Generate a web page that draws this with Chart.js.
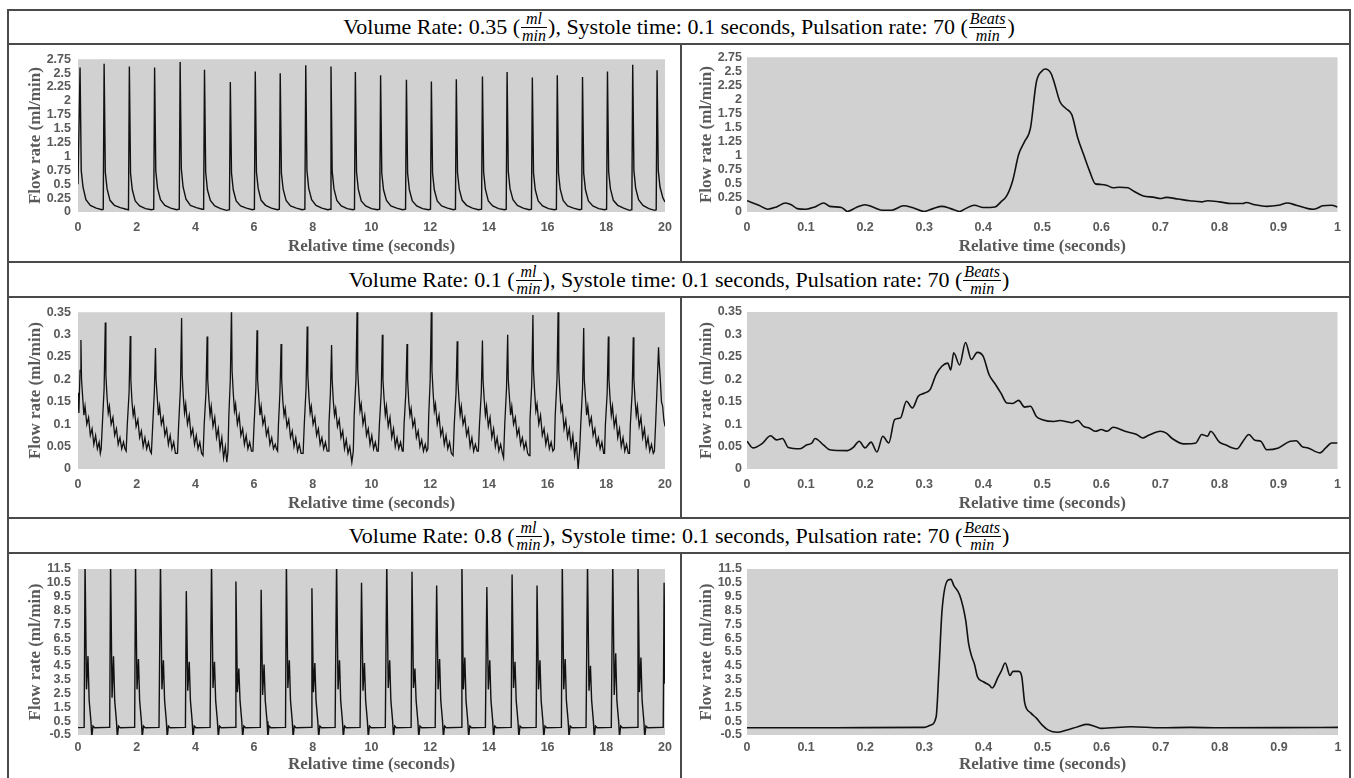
<!DOCTYPE html>
<html>
<head>
<meta charset="utf-8">
<script src="https://cdn.jsdelivr.net/npm/chart.js@4.4.1/dist/chart.umd.min.js"></script>
<style>
  body { margin: 0; background: #fff; width: 1354px; height: 778px; position: relative; overflow: hidden; }
  .hl { position: absolute; left: 7px; width: 1344px; height: 2px; background: #4a4a4a; }
  .vl { position: absolute; width: 2px; background: #4a4a4a; }
  .hdr { position: absolute; left: 9px; width: 1340px; height: 34px; line-height: 34px; text-align: center;
         font-family: "Liberation Serif", "Times New Roman", serif; font-size: 22px; color: #000; white-space: nowrap; }
  .frac { display: inline-block; vertical-align: middle; text-align: center; font-style: italic;
          font-size: 16px; line-height: 16px; margin: 0 1px; position: relative; top: -1px; }
  .frac span { display: block; padding: 0 1px; }
  .frac .num { border-bottom: 1px solid #000; }
  canvas { position: absolute; }
</style>
</head>
<body>
<div class="hl" style="top:9px"></div>
<div class="hl" style="top:43px"></div>
<div class="hl" style="top:261px"></div>
<div class="hl" style="top:296px"></div>
<div class="hl" style="top:517px"></div>
<div class="hl" style="top:552px"></div>
<div class="vl" style="left:7px; top:9px; height:769px"></div>
<div class="vl" style="left:1349px; top:9px; height:769px"></div>
<div class="vl" style="left:680px; top:43px; height:219px"></div>
<div class="vl" style="left:680px; top:296px; height:222px"></div>
<div class="vl" style="left:680px; top:552px; height:226px"></div>

<div class="hdr" style="top:10px">Volume Rate: 0.35 (<span class="frac"><span class="num">ml</span><span>min</span></span>), Systole time: 0.1 seconds, Pulsation rate: 70 (<span class="frac"><span class="num">Beats</span><span>min</span></span>)</div>
<div class="hdr" style="top:263px">Volume Rate: 0.1 (<span class="frac"><span class="num">ml</span><span>min</span></span>), Systole time: 0.1 seconds, Pulsation rate: 70 (<span class="frac"><span class="num">Beats</span><span>min</span></span>)</div>
<div class="hdr" style="top:519px">Volume Rate: 0.8 (<span class="frac"><span class="num">ml</span><span>min</span></span>), Systole time: 0.1 seconds, Pulsation rate: 70 (<span class="frac"><span class="num">Beats</span><span>min</span></span>)</div>

<canvas id="tl" width="671" height="215" style="left:9px; top:46px"></canvas>
<canvas id="tr" width="666" height="215" style="left:683px; top:46px"></canvas>
<canvas id="ml" width="671" height="218" style="left:9px; top:299px"></canvas>
<canvas id="mr" width="666" height="218" style="left:683px; top:299px"></canvas>
<canvas id="bl" width="671" height="222" style="left:9px; top:555px"></canvas>
<canvas id="br" width="666" height="222" style="left:683px; top:555px"></canvas>

<script>
// 0.35 ml/min, 20 s record: [time, flow]
const tlPoints = [
  [0,0.5],[0.07,2.6],[0.11,0.75],[0.17,0.45],[0.27,0.22],[0.42,0.12],[0.62,0.07],[0.82,0.04],
  [0.86,0.05],[0.89,2.67],[0.93,0.72],[0.99,0.42],[1.09,0.21],[1.24,0.12],[1.44,0.08],[1.64,0.05],
  [1.72,0.04],[1.75,2.62],[1.79,0.7],[1.85,0.4],[1.95,0.2],[2.1,0.11],[2.3,0.06],[2.5,0.04],
  [2.58,0.05],[2.61,2.6],[2.65,0.74],[2.71,0.43],[2.81,0.22],[2.96,0.12],[3.16,0.07],[3.36,0.04],
  [3.45,0.05],[3.48,2.7],[3.52,0.78],[3.58,0.45],[3.68,0.23],[3.83,0.12],[4.03,0.08],[4.23,0.05],
  [4.28,0.05],[4.31,2.56],[4.35,0.72],[4.41,0.4],[4.51,0.21],[4.66,0.11],[4.86,0.06],[5.06,0.03],
  [5.16,0.04],[5.19,2.34],[5.23,0.7],[5.29,0.4],[5.39,0.2],[5.54,0.11],[5.74,0.07],[5.94,0.04],
  [6.01,0.05],[6.04,2.53],[6.08,0.72],[6.14,0.42],[6.24,0.21],[6.39,0.12],[6.59,0.07],[6.79,0.04],
  [6.86,0.05],[6.89,2.5],[6.93,0.7],[6.99,0.41],[7.09,0.21],[7.24,0.11],[7.44,0.07],[7.64,0.04],
  [7.73,0.05],[7.76,2.64],[7.8,0.75],[7.86,0.43],[7.96,0.22],[8.11,0.12],[8.31,0.07],[8.51,0.04],
  [8.59,0.05],[8.62,2.62],[8.66,0.74],[8.72,0.42],[8.82,0.21],[8.97,0.11],[9.17,0.06],[9.37,0.04],
  [9.42,0.05],[9.45,2.52],[9.49,0.72],[9.55,0.41],[9.65,0.2],[9.8,0.11],[10.0,0.06],[10.2,0.04],
  [10.28,0.05],[10.31,2.46],[10.35,0.7],[10.41,0.4],[10.51,0.21],[10.66,0.11],[10.86,0.07],[11.06,0.04],
  [11.16,0.05],[11.19,2.38],[11.23,0.7],[11.29,0.4],[11.39,0.2],[11.54,0.11],[11.74,0.06],[11.94,0.04],
  [12.01,0.05],[12.04,2.35],[12.08,0.7],[12.14,0.4],[12.24,0.2],[12.39,0.11],[12.59,0.07],[12.79,0.04],
  [12.86,0.05],[12.89,2.39],[12.93,0.71],[12.99,0.41],[13.09,0.21],[13.24,0.12],[13.44,0.07],[13.64,0.04],
  [13.75,0.05],[13.78,2.44],[13.82,0.72],[13.88,0.41],[13.98,0.2],[14.13,0.11],[14.33,0.06],[14.53,0.04],
  [14.59,0.05],[14.62,2.52],[14.66,0.73],[14.72,0.42],[14.82,0.22],[14.97,0.12],[15.17,0.07],[15.37,0.04],
  [15.45,0.05],[15.48,2.42],[15.52,0.7],[15.58,0.4],[15.68,0.2],[15.83,0.11],[16.03,0.06],[16.23,0.04],
  [16.3,0.05],[16.33,2.46],[16.37,0.71],[16.43,0.41],[16.53,0.21],[16.68,0.11],[16.88,0.07],[17.08,0.04],
  [17.16,0.05],[17.19,2.43],[17.23,0.7],[17.29,0.4],[17.39,0.2],[17.54,0.11],[17.74,0.06],[17.94,0.04],
  [18.01,0.05],[18.04,2.53],[18.08,0.72],[18.14,0.42],[18.24,0.21],[18.39,0.12],[18.59,0.07],[18.79,0.03],
  [18.87,0.04],[18.9,2.65],[18.94,0.75],[19.0,0.43],[19.1,0.22],[19.25,0.12],[19.45,0.06],[19.65,0.03],
  [19.7,0.04],[19.73,2.55],[19.77,0.75],[19.83,0.45],[19.93,0.25],[20,0.18]
];

// 0.35 ml/min, one cycle
const trTime = [0,0.02,0.035,0.05,0.065,0.075,0.085,0.1,0.115,0.13,0.14,0.16,0.17,0.185,0.2,0.215,0.23,0.245,0.265,0.28,
  0.3,0.315,0.33,0.345,0.36,0.37,0.385,0.4,0.42,0.43,0.44,0.45,0.46,0.47,0.48,0.49,0.5,0.505,0.515,0.52,
  0.53,0.54,0.55,0.56,0.57,0.58,0.59,0.6,0.61,0.62,0.63,0.645,0.655,0.67,0.69,0.7,0.71,0.73,0.75,0.77,
  0.78,0.8,0.82,0.84,0.845,0.86,0.88,0.9,0.915,0.93,0.95,0.96,0.975,0.99,1.0];
const trFlow = [0.2,0.12,0.05,0.09,0.16,0.13,0.06,0.05,0.09,0.16,0.1,0.08,0.01,0.08,0.13,0.08,0.03,0.03,0.11,0.08,
  0.01,0.06,0.1,0.06,0.01,0.06,0.12,0.08,0.09,0.18,0.29,0.56,1.02,1.25,1.49,2.31,2.51,2.54,2.46,2.31,
  1.96,1.84,1.73,1.32,1.02,0.73,0.5,0.49,0.47,0.43,0.44,0.43,0.37,0.29,0.26,0.24,0.26,0.23,0.2,0.18,
  0.2,0.18,0.15,0.15,0.17,0.13,0.1,0.12,0.16,0.12,0.06,0.05,0.11,0.12,0.09];

// 0.1 ml/min, 20 s record: [time, flow]
const mlPoints = [
  [0,0.17],[0.03,0.125],[0.07,0.22],[0.1,0.288],[0.12,0.2],[0.16,0.16],[0.2,0.12],[0.24,0.14],[0.3,0.1],[0.36,0.115],[0.42,0.075],[0.48,0.09],[0.54,0.055],[0.6,0.075],[0.66,0.045],[0.72,0.06],[0.76,0.035],
  [0.79,0.045],[0.83,0.1],[0.89,0.18],[0.93,0.327],[0.95,0.21],[0.99,0.16],[1.03,0.125],[1.07,0.14],[1.13,0.1],[1.19,0.115],[1.25,0.075],[1.31,0.09],[1.37,0.055],[1.43,0.07],[1.49,0.045],[1.55,0.06],[1.6,0.045],
  [1.64,0.04],[1.68,0.1],[1.74,0.17],[1.78,0.297],[1.8,0.2],[1.84,0.15],[1.88,0.12],[1.92,0.135],[1.98,0.095],[2.04,0.11],[2.1,0.07],[2.16,0.085],[2.22,0.05],[2.28,0.07],[2.34,0.045],[2.4,0.06],[2.46,0.04],
  [2.5,0.035],[2.54,0.09],[2.6,0.17],[2.64,0.27],[2.66,0.2],[2.7,0.16],[2.74,0.12],[2.78,0.14],[2.84,0.1],[2.9,0.115],[2.96,0.075],[3.02,0.09],[3.08,0.055],[3.14,0.075],[3.2,0.045],[3.26,0.06],[3.32,0.035],
  [3.39,0.035],[3.43,0.1],[3.49,0.18],[3.53,0.337],[3.55,0.21],[3.59,0.16],[3.63,0.125],[3.67,0.145],[3.73,0.1],[3.79,0.12],[3.85,0.075],[3.91,0.09],[3.97,0.055],[4.03,0.075],[4.09,0.045],[4.15,0.06],[4.21,0.035],
  [4.26,0.03],[4.3,0.1],[4.36,0.17],[4.4,0.296],[4.42,0.2],[4.46,0.155],[4.5,0.12],[4.54,0.14],[4.6,0.095],[4.66,0.115],[4.72,0.07],[4.78,0.09],[4.84,0.045],[4.9,0.07],[4.96,0.025],[5.02,0.05],[5.07,0.015],
  [5.11,0.04],[5.14,0.12],[5.19,0.2],[5.23,0.36],[5.25,0.22],[5.29,0.17],[5.33,0.13],[5.37,0.145],[5.43,0.1],[5.49,0.12],[5.55,0.075],[5.61,0.09],[5.67,0.055],[5.73,0.075],[5.79,0.045],[5.85,0.06],[5.91,0.04],
  [5.96,0.04],[6.0,0.1],[6.06,0.18],[6.1,0.31],[6.12,0.2],[6.16,0.16],[6.2,0.12],[6.24,0.14],[6.3,0.1],[6.36,0.115],[6.42,0.075],[6.48,0.09],[6.54,0.055],[6.6,0.07],[6.66,0.045],[6.72,0.055],[6.76,0.045],
  [6.8,0.04],[6.83,0.1],[6.88,0.17],[6.92,0.279],[6.94,0.2],[6.98,0.15],[7.02,0.12],[7.06,0.135],[7.12,0.095],[7.18,0.11],[7.24,0.07],[7.3,0.085],[7.36,0.05],[7.42,0.07],[7.48,0.04],[7.54,0.055],[7.6,0.035],
  [7.67,0.035],[7.71,0.1],[7.77,0.18],[7.81,0.318],[7.83,0.21],[7.87,0.16],[7.91,0.125],[7.95,0.14],[8.01,0.1],[8.07,0.115],[8.13,0.075],[8.19,0.09],[8.25,0.055],[8.31,0.07],[8.37,0.045],[8.43,0.06],[8.49,0.04],
  [8.52,0.04],[8.55,0.1],[8.6,0.17],[8.64,0.277],[8.66,0.2],[8.7,0.15],[8.74,0.12],[8.78,0.135],[8.84,0.095],[8.9,0.11],[8.96,0.07],[9.02,0.085],[9.08,0.045],[9.14,0.065],[9.2,0.035],[9.26,0.05],[9.33,0.015],
  [9.38,0.04],[9.41,0.12],[9.47,0.2],[9.51,0.36],[9.53,0.22],[9.57,0.17],[9.61,0.13],[9.65,0.145],[9.71,0.1],[9.77,0.12],[9.83,0.075],[9.89,0.09],[9.95,0.055],[10.01,0.075],[10.07,0.045],[10.13,0.06],[10.19,0.04],
  [10.23,0.04],[10.27,0.1],[10.33,0.17],[10.37,0.3],[10.39,0.2],[10.43,0.155],[10.47,0.12],[10.51,0.14],[10.57,0.095],[10.63,0.115],[10.69,0.07],[10.75,0.09],[10.81,0.05],[10.87,0.07],[10.93,0.045],[10.99,0.06],[11.05,0.04],
  [11.08,0.04],[11.11,0.1],[11.17,0.17],[11.21,0.279],[11.23,0.2],[11.27,0.15],[11.31,0.12],[11.35,0.135],[11.41,0.095],[11.47,0.11],[11.53,0.07],[11.59,0.085],[11.65,0.05],[11.71,0.065],[11.77,0.04],[11.83,0.055],[11.88,0.04],
  [11.92,0.045],[11.95,0.12],[12.0,0.2],[12.04,0.36],[12.06,0.22],[12.1,0.17],[12.14,0.13],[12.18,0.145],[12.24,0.1],[12.3,0.12],[12.36,0.075],[12.42,0.09],[12.48,0.055],[12.54,0.075],[12.6,0.045],[12.66,0.06],[12.72,0.035],
  [12.78,0.03],[12.82,0.1],[12.88,0.17],[12.92,0.285],[12.94,0.2],[12.98,0.155],[13.02,0.12],[13.06,0.14],[13.12,0.1],[13.18,0.115],[13.24,0.075],[13.3,0.09],[13.36,0.05],[13.42,0.07],[13.48,0.04],[13.54,0.055],[13.6,0.04],
  [13.64,0.04],[13.68,0.1],[13.74,0.17],[13.78,0.287],[13.8,0.2],[13.84,0.155],[13.88,0.12],[13.92,0.14],[13.98,0.095],[14.04,0.115],[14.1,0.07],[14.16,0.09],[14.22,0.05],[14.28,0.07],[14.34,0.04],[14.4,0.055],[14.46,0.035],
  [14.5,0.025],[14.54,0.1],[14.6,0.18],[14.64,0.3],[14.66,0.2],[14.7,0.16],[14.74,0.12],[14.78,0.14],[14.84,0.1],[14.9,0.115],[14.96,0.075],[15.02,0.09],[15.08,0.055],[15.14,0.07],[15.2,0.045],[15.26,0.06],[15.32,0.035],
  [15.37,0.03],[15.4,0.11],[15.46,0.19],[15.5,0.344],[15.52,0.22],[15.56,0.17],[15.6,0.13],[15.64,0.145],[15.7,0.1],[15.76,0.12],[15.82,0.075],[15.88,0.09],[15.94,0.055],[16.0,0.075],[16.06,0.045],[16.12,0.06],[16.18,0.04],
  [16.23,0.045],[16.26,0.12],[16.32,0.2],[16.36,0.36],[16.38,0.22],[16.42,0.17],[16.46,0.13],[16.5,0.14],[16.56,0.09],[16.62,0.11],[16.68,0.07],[16.74,0.09],[16.8,0.05],[16.86,0.075],[16.92,0.03],[16.98,0.06],[17.04,0.0],
  [17.09,0.04],[17.13,0.1],[17.19,0.18],[17.23,0.315],[17.25,0.2],[17.29,0.16],[17.33,0.12],[17.37,0.14],[17.43,0.1],[17.49,0.115],[17.55,0.075],[17.61,0.09],[17.67,0.055],[17.73,0.07],[17.79,0.045],[17.85,0.06],[17.91,0.035],
  [17.94,0.035],[17.97,0.1],[18.03,0.17],[18.07,0.296],[18.09,0.2],[18.13,0.155],[18.17,0.12],[18.21,0.14],[18.27,0.095],[18.33,0.115],[18.39,0.07],[18.45,0.09],[18.51,0.05],[18.57,0.07],[18.63,0.04],[18.69,0.055],[18.75,0.035],
  [18.79,0.035],[18.82,0.1],[18.88,0.17],[18.92,0.294],[18.94,0.2],[18.98,0.155],[19.02,0.12],[19.06,0.14],[19.12,0.095],[19.18,0.115],[19.24,0.07],[19.3,0.09],[19.36,0.05],[19.42,0.07],[19.48,0.04],[19.54,0.055],[19.6,0.035],
  [19.64,0.04],[19.68,0.1],[19.74,0.2],[19.78,0.272],[19.8,0.24],[19.84,0.2],[19.88,0.15],[19.92,0.14],[19.96,0.11],[20,0.095]
];

// 0.1 ml/min, one cycle
const mrTime = [0,0.01,0.025,0.04,0.05,0.06,0.07,0.09,0.1,0.11,0.115,0.13,0.14,0.17,0.18,0.19,0.2,0.21,0.22,0.23,
  0.24,0.25,0.26,0.27,0.28,0.29,0.3,0.31,0.32,0.33,0.34,0.345,0.35,0.36,0.37,0.38,0.39,0.4,0.41,0.42,
  0.43,0.44,0.45,0.46,0.47,0.48,0.49,0.5,0.52,0.53,0.54,0.55,0.56,0.57,0.58,0.59,0.6,0.61,0.62,0.64,
  0.66,0.67,0.68,0.7,0.71,0.72,0.74,0.76,0.77,0.78,0.785,0.8,0.81,0.83,0.84,0.85,0.86,0.87,0.88,0.9,
  0.92,0.93,0.94,0.95,0.97,0.98,0.99,1.0];
const mrFlow = [0.062,0.047,0.056,0.074,0.065,0.068,0.048,0.045,0.053,0.058,0.068,0.053,0.043,0.041,0.048,0.062,0.047,0.06,0.038,0.073,
  0.058,0.11,0.114,0.151,0.136,0.162,0.169,0.177,0.21,0.229,0.236,0.221,0.259,0.232,0.282,0.244,0.26,0.251,0.21,0.19,
  0.169,0.147,0.146,0.153,0.138,0.14,0.117,0.11,0.106,0.108,0.106,0.103,0.108,0.095,0.091,0.084,0.088,0.084,0.093,0.084,
  0.077,0.069,0.075,0.084,0.08,0.068,0.056,0.058,0.077,0.073,0.084,0.06,0.054,0.045,0.062,0.077,0.064,0.062,0.043,0.047,
  0.062,0.063,0.05,0.047,0.036,0.047,0.058,0.058];

// 0.8 ml/min, 20 s record: [time, flow]
const blPoints = [
  [0,0.03],
  [0.21,0.05],[0.24,12],[0.29,2.8],[0.34,5.2],[0.38,2.0],[0.44,0.5],[0.47,-0.65],[0.51,0.15],[0.57,0.02],[1.05,0.05],
  [1.08,0.05],[1.11,12],[1.16,2.2],[1.21,5.2],[1.25,2.0],[1.31,0.5],[1.34,-0.65],[1.38,0.15],[1.44,0.02],[1.9,0.05],
  [1.93,0.05],[1.96,12],[2.01,2.8],[2.06,5.0],[2.1,2.0],[2.16,0.5],[2.19,-0.65],[2.23,0.15],[2.29,0.02],[2.76,0.05],
  [2.78,0.05],[2.81,12],[2.86,2.8],[2.91,4.9],[2.95,2.0],[3.01,0.5],[3.04,-0.65],[3.08,0.15],[3.14,0.02],[3.64,0.05],
  [3.66,0.05],[3.69,9.9],[3.74,2.7],[3.79,4.8],[3.83,2.0],[3.89,0.5],[3.92,-0.65],[3.96,0.15],[4.02,0.02],[4.5,0.05],
  [4.52,0.05],[4.55,12],[4.6,2.9],[4.65,4.8],[4.69,2.0],[4.75,0.5],[4.78,-0.65],[4.82,0.15],[4.88,0.02],[5.33,0.05],
  [5.35,0.05],[5.38,10.6],[5.43,2.6],[5.48,4.3],[5.52,2.0],[5.58,0.5],[5.61,-0.65],[5.65,0.15],[5.71,0.02],[6.19,0.05],
  [6.21,0.05],[6.24,10.0],[6.29,2.4],[6.34,4.6],[6.38,2.0],[6.44,0.5],[6.47,-0.65],[6.51,0.15],[6.57,0.02],[7.05,0.05],
  [7.07,0.05],[7.1,12],[7.15,2.9],[7.2,4.9],[7.24,2.0],[7.3,0.5],[7.33,-0.65],[7.37,0.15],[7.43,0.02],[7.92,0.05],
  [7.94,0.05],[7.97,10.1],[8.02,2.6],[8.07,4.7],[8.11,2.0],[8.17,0.5],[8.2,-0.65],[8.24,0.15],[8.3,0.02],[8.76,0.05],
  [8.78,0.05],[8.81,12],[8.86,2.8],[8.91,4.9],[8.95,2.0],[9.01,0.5],[9.04,-0.65],[9.08,0.15],[9.14,0.02],[9.61,0.05],
  [9.63,0.05],[9.66,10.5],[9.71,2.7],[9.76,4.7],[9.8,2.0],[9.86,0.5],[9.89,-0.65],[9.93,0.15],[9.99,0.02],[10.47,0.05],
  [10.49,0.05],[10.52,12],[10.57,2.9],[10.62,4.9],[10.66,2.0],[10.72,0.5],[10.75,-0.65],[10.79,0.15],[10.85,0.02],[11.33,0.05],
  [11.35,0.05],[11.38,11.3],[11.43,2.9],[11.48,4.3],[11.52,2.0],[11.58,0.5],[11.61,-0.65],[11.65,0.15],[11.71,0.02],[12.17,0.05],
  [12.19,0.05],[12.22,10.3],[12.27,2.8],[12.32,5.0],[12.36,2.0],[12.42,0.5],[12.45,-0.65],[12.49,0.15],[12.55,0.02],[13.03,0.05],
  [13.05,0.05],[13.08,12],[13.13,2.8],[13.18,5.1],[13.22,2.0],[13.28,0.5],[13.31,-0.65],[13.35,0.15],[13.41,0.02],[13.88,0.05],
  [13.9,0.05],[13.93,10.2],[13.98,2.8],[14.03,4.9],[14.07,2.0],[14.13,0.5],[14.16,-0.65],[14.2,0.15],[14.26,0.02],[14.74,0.05],
  [14.76,0.05],[14.79,11.1],[14.84,2.9],[14.89,4.8],[14.93,2.0],[14.99,0.5],[15.02,-0.65],[15.06,0.15],[15.12,0.02],[15.59,0.05],
  [15.61,0.05],[15.64,10.3],[15.69,2.8],[15.74,4.9],[15.78,2.0],[15.84,0.5],[15.87,-0.65],[15.91,0.15],[15.97,0.02],[16.45,0.05],
  [16.47,0.05],[16.5,12],[16.55,2.8],[16.6,5.0],[16.64,2.0],[16.7,0.5],[16.73,-0.65],[16.77,0.15],[16.83,0.02],[17.31,0.05],
  [17.33,0.05],[17.36,12],[17.41,2.7],[17.46,4.5],[17.5,2.0],[17.56,0.5],[17.59,-0.65],[17.63,0.15],[17.69,0.02],[18.17,0.05],
  [18.19,0.05],[18.22,12],[18.27,2.4],[18.32,5.4],[18.36,2.0],[18.42,0.5],[18.45,-0.65],[18.49,0.15],[18.55,0.02],[19.03,0.05],
  [19.05,0.05],[19.08,12],[19.13,2.6],[19.18,5.1],[19.22,2.0],[19.28,0.5],[19.31,-0.65],[19.35,0.15],[19.41,0.02],[19.91,0.05],
  [19.94,0.05],[19.97,10.5],[20,3.2]
];

// 0.8 ml/min, one cycle
const brTime = [0,0.1,0.2,0.3,0.31,0.32,0.325,0.33,0.34,0.345,0.35,0.36,0.37,0.375,0.38,0.385,0.39,0.4,0.41,0.415,
  0.425,0.43,0.437,0.445,0.45,0.46,0.465,0.47,0.48,0.49,0.5,0.51,0.525,0.54,0.56,0.575,0.59,0.6,0.65,0.7,
  0.75,0.8,0.9,1.0];
const brFlow = [0.02,0.02,0.03,0.05,0.2,0.8,4.4,8.5,10.7,10.75,10.3,9.6,7.8,6.1,5.2,4.6,3.7,3.35,3.1,2.9,
  3.7,4.1,4.7,3.8,4.1,4.1,3.7,1.8,1.1,0.7,0.2,-0.15,-0.3,-0.15,0.1,0.27,0.1,-0.02,0.1,0.02,
  0.05,0.02,0.03,0.05];

const tickColor = '#595959';
const plotBg = {
  id: 'plotBg',
  beforeDraw(chart) {
    const a = chart.chartArea, c = chart.ctx;
    c.save();
    c.fillStyle = '#d1d1d1';
    c.fillRect(a.left, a.top, a.right - a.left, a.bottom - a.top);
    c.restore();
  }
};

function fmt(v) { return String(+Number(v).toFixed(3)); }

function makeChart(id, points, yMin, yMax, yStep, xMax, xStep, box, lw, smooth) {
  new Chart(document.getElementById(id), {
    type: 'line',
    data: { datasets: [{ data: points, borderColor: '#111', borderWidth: lw, pointRadius: 0, fill: false,
                         tension: smooth ? 0.4 : 0, cubicInterpolationMode: smooth ? 'monotone' : 'default' }] },
    plugins: [plotBg],
    options: {
      responsive: false, animation: false, devicePixelRatio: 1,
      layout: { padding: { top: box.top, right: box.right, left: 0, bottom: 0 } },
      plugins: { legend: { display: false }, tooltip: { enabled: false } },
      scales: {
        x: {
          type: 'linear', min: 0, max: xMax,
          grid: { display: false, drawTicks: false }, border: { display: false },
          ticks: { stepSize: xStep, autoSkip: false, maxRotation: 0, padding: box.xTick, color: tickColor,
                   font: { family: '"Liberation Sans Narrow", "Liberation Sans", sans-serif', size: 12.5, weight: 'bold' },
                   callback: fmt },
          title: { display: true, text: 'Relative time (seconds)', color: tickColor, padding: { top: 0, bottom: box.xTitle },
                   font: { family: '"Liberation Serif", "Times New Roman", serif', size: 17, weight: 'bold', lineHeight: 1 } },
          afterFit(s) { s.height = box.xh; }
        },
        y: {
          type: 'linear', min: yMin, max: yMax,
          grid: { display: false, drawTicks: false }, border: { display: false },
          ticks: { stepSize: yStep, autoSkip: false, padding: box.yTick, color: tickColor,
                   font: { family: '"Liberation Sans Narrow", "Liberation Sans", sans-serif', size: 12.5, weight: 'bold', lineHeight: 1 },
                   callback: fmt },
          title: { display: true, text: 'Flow rate (ml/min)', color: tickColor, padding: { top: box.yTitle, bottom: 0 },
                   font: { family: '"Liberation Serif", "Times New Roman", serif', size: 17, weight: 'bold', lineHeight: 1 } },
          afterFit(s) { s.width = box.yw; }
        }
      }
    }
  });
}

const pairs = arr => arr.map(p => ({ x: p[0], y: p[1] }));
const zip = (xs, ys) => xs.map((x, i) => ({ x: x, y: ys[i] }));

makeChart('tl', pairs(tlPoints), 0, 2.75, 0.25, 20, 2,
  { top: 9, right: 15, xh: 49, yw: 69, yTitle: 18, xTitle: 6, yTick: 7, xTick: 8 }, 1.4, false);
makeChart('tr', zip(trTime, trFlow), 0, 2.75, 0.25, 1, 0.1,
  { top: 9, right: 11, xh: 49, yw: 64, yTitle: 15, xTitle: 6, yTick: 5, xTick: 8 }, 1.6, true);
makeChart('ml', pairs(mlPoints), 0, 0.35, 0.05, 20, 2,
  { top: 13, right: 15, xh: 48, yw: 69, yTitle: 18, xTitle: 5, yTick: 7, xTick: 8 }, 1.3, false);
makeChart('mr', zip(mrTime, mrFlow), 0, 0.35, 0.05, 1, 0.1,
  { top: 13, right: 11, xh: 48, yw: 64, yTitle: 15, xTitle: 5, yTick: 5, xTick: 8 }, 1.6, true);
makeChart('bl', pairs(blPoints), -0.5, 11.5, 1, 20, 2,
  { top: 14, right: 15, xh: 42, yw: 69, yTitle: 18, xTitle: 4, yTick: 7, xTick: 5 }, 1.4, false);
makeChart('br', zip(brTime, brFlow), -0.5, 11.5, 1, 1, 0.1,
  { top: 14, right: 11, xh: 42, yw: 64, yTitle: 15, xTitle: 4, yTick: 5, xTick: 5 }, 1.6, true);
</script>
</body>
</html>
